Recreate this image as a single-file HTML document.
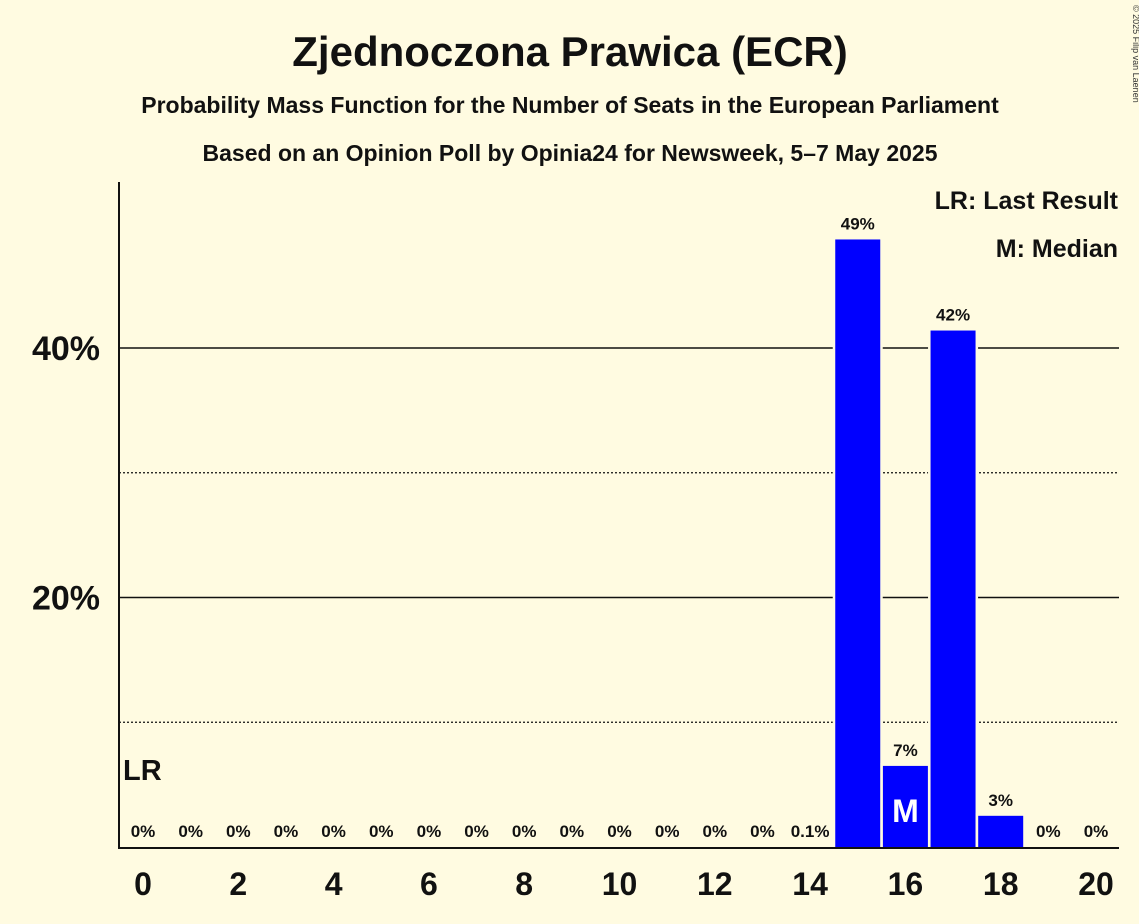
<!DOCTYPE html>
<html><head><meta charset="utf-8"><style>
body{margin:0;background:#fffbe1;}
svg{display:block;font-family:"Liberation Sans",sans-serif;font-weight:bold;}
</style></head><body>
<svg id="chart" width="1139" height="924">
<rect width="1139" height="924" fill="#fffbe1"/>
<text x="570" y="66" text-anchor="middle" font-size="42" fill="#111">Zjednoczona Prawica (ECR)</text>
<text x="570" y="113" text-anchor="middle" font-size="23" fill="#111">Probability Mass Function for the Number of Seats in the European Parliament</text>
<text x="570" y="161" text-anchor="middle" font-size="23" fill="#111">Based on an Opinion Poll by Opinia24 for Newsweek, 5–7 May 2025</text>
<text x="1133" y="5" font-size="9" font-weight="normal" fill="#333" transform="rotate(90 1133 5)">© 2025 Filip van Laenen</text>
<g id="grid"></g>
<g id="bars"></g>
<line x1="119" y1="182" x2="119" y2="849" stroke="#111" stroke-width="2"/>
<line x1="118" y1="848" x2="1119" y2="848" stroke="#111" stroke-width="2"/>
<text x="1118" y="209" text-anchor="end" font-size="25" fill="#111">LR: Last Result</text>
<text x="1118" y="257" text-anchor="end" font-size="25" fill="#111">M: Median</text>
<text x="123" y="780" font-size="29" fill="#111">LR</text>
</svg>
<script>
const seats=[0,1,2,3,4,5,6,7,8,9,10,11,12,13,14,15,16,17,18,19,20];
const probs=[0,0,0,0,0,0,0,0,0,0,0,0,0,0,0.1,48.7,6.5,41.4,2.5,0,0];
const labels=["0%","0%","0%","0%","0%","0%","0%","0%","0%","0%","0%","0%","0%","0%","0.1%","49%","7%","42%","3%","0%","0%"];
const yTicks=[20,40];
const yMinor=[10,30];
const medianSeat=16;
const NS="http://www.w3.org/2000/svg";
const x=s=>143+s*47.65;
const y=v=>847-v*12.475;
const grid=document.getElementById('grid'),bars=document.getElementById('bars'),svg=document.getElementById('chart');
function mk(t,a,p){const e=document.createElementNS(NS,t);for(const k in a)e.setAttribute(k,a[k]);p.appendChild(e);return e;}
yMinor.forEach(v=>{const l=mk('line',{x1:119,x2:1119,y1:y(v),y2:y(v),stroke:'#111','stroke-width':1.2,'stroke-dasharray':'2,2'},grid);

});
yTicks.forEach(v=>{const l=mk('line',{x1:119,x2:1119,y1:y(v),y2:y(v),stroke:'#111','stroke-width':1.5},grid);


const t=mk('text',{x:100,y:y(v)+12,'text-anchor':'end','font-size':34,fill:'#111'},svg);t.textContent=v+'%';

});
seats.forEach((s,i)=>{const p=probs[i];const cx=x(s);
if(p>0.5){const bg=mk('rect',{x:cx-25,y:y(p)-3,width:50,height:847-y(p)+3,fill:'#fffbe1'},bars);


const r=mk('rect',{x:cx-22.5,y:y(p),width:45,height:847-y(p),fill:'#0000ff'},bars);

}
const ly=p>0.5?y(p)-10:837;
const t=mk('text',{x:cx,y:ly,'text-anchor':'middle','font-size':17,fill:'#111'},svg);t.textContent=labels[i];


if(s===medianSeat){const m=mk('text',{x:cx,y:822,'text-anchor':'middle','font-size':32,fill:'#fff'},svg);m.textContent='M';

}
if(s%2===0){const xt=mk('text',{x:cx,y:895,'text-anchor':'middle','font-size':32,fill:'#111'},svg);xt.textContent=s;

}
});
</script>
</body></html>
